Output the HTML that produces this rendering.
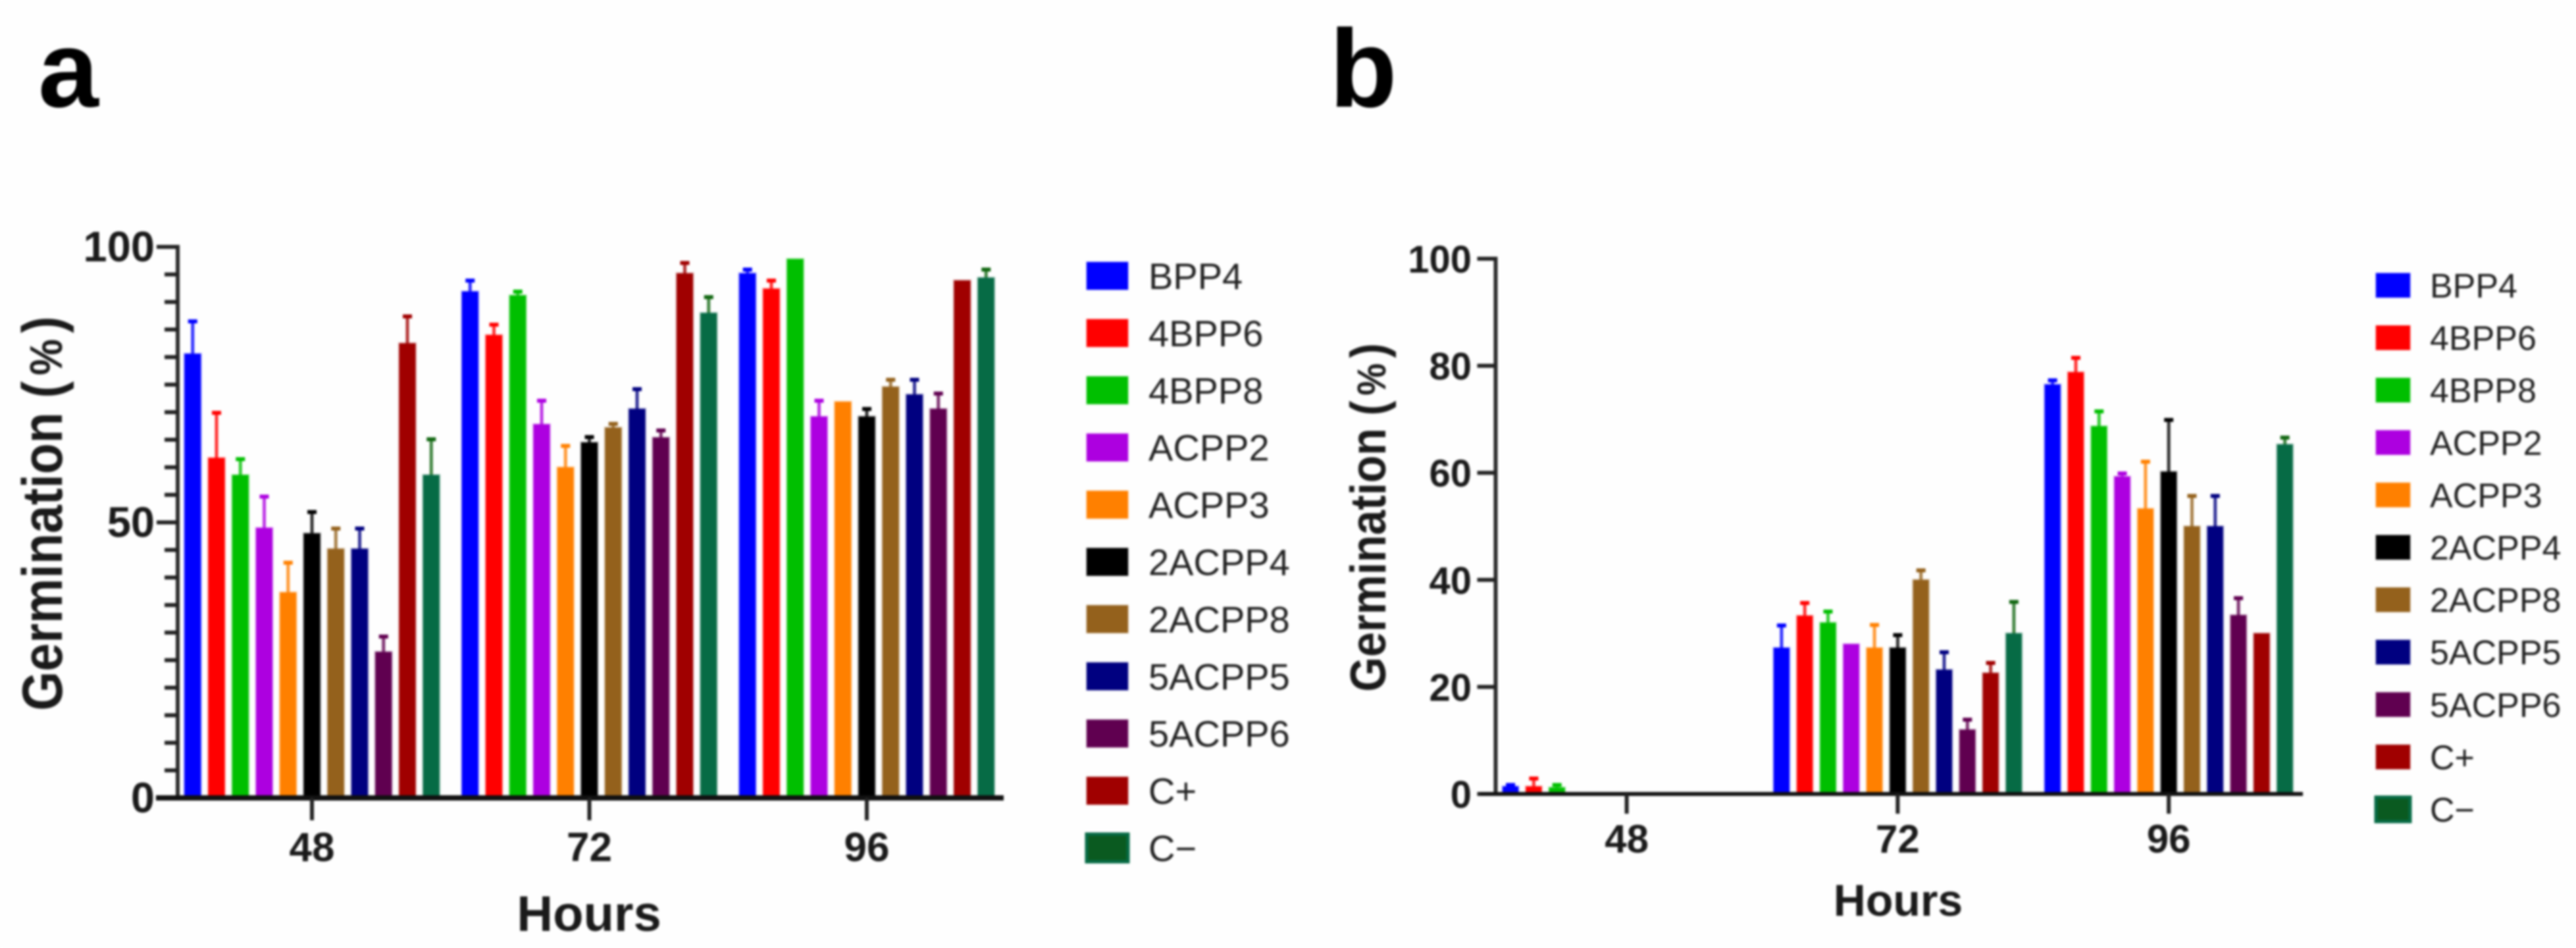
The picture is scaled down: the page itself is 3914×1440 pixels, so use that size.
<!DOCTYPE html>
<html lang="en">
<head>
<meta charset="utf-8">
<title>Germination charts</title>
<style>
  html, body { margin: 0; padding: 0; background: #ffffff; width: 3914px; height: 1440px; overflow: hidden; }
  svg { display: block; filter: blur(1.6px); }
  text { font-family: "Liberation Sans", Arial, sans-serif; }
</style>
</head>
<body>
<svg id="figure" xmlns="http://www.w3.org/2000/svg" width="3914" height="1440" viewBox="0 0 3914 1440">
  <rect x="0" y="0" width="3914" height="1440" fill="#fefefe"></rect>
  <text x="58" y="162" font-size="165" font-weight="700" fill="#000">a</text>
  <text x="2020" y="162" font-size="168" font-weight="700" fill="#000">b</text>

  <g id="chart-a">
    <text transform="translate(94,780) rotate(-90) scale(1,1.12)" text-anchor="middle" font-size="77" font-weight="700" fill="#1a1a1a">Germination (<tspan font-size="62" dx="9">%</tspan><tspan dx="9">)</tspan></text>
    <text x="895" y="1414" text-anchor="middle" font-size="76" font-weight="700" fill="#1a1a1a">Hours</text>
  </g>
  <g id="chart-b">
    <text transform="translate(2105,786) rotate(-90) scale(1,1.12)" text-anchor="middle" font-size="68" font-weight="700" fill="#1a1a1a">Germination (<tspan font-size="55" dx="8">%</tspan><tspan dx="8">)</tspan></text>
    <text x="2884" y="1391" text-anchor="middle" font-size="68" font-weight="700" fill="#1a1a1a">Hours</text>
  </g>
</svg>
<script>
// ---- Data ----
var categories = ['48', '72', '96'];
var seriesNames = ['BPP4', '4BPP6', '4BPP8', 'ACPP2', 'ACPP3', '2ACPP4', '2ACPP8', '5ACPP5', '5ACPP6', 'C+', 'C\u2212'];

var panelA48 = [80.6, 61.7, 58.6, 49, 37.3, 48, 45.2, 45.2, 26.5, 82.5, 58.6];
var panelA72 = [91.9, 84, 91.2, 67.8, 60, 64.5, 67.2, 70.6, 65.4, 95.2, 88];
var panelA96 = [95.2, 92.4, 97.8, 69.2, 71.9, 69.2, 74.6, 73.2, 70.6, 93.9, 94.4];
var errorA48 = [6, 8.3, 3, 5.8, 5.5, 4, 3.8, 3.8, 2.9, 5, 6.6];
var errorA72 = [2.1, 2, 0.8, 4.4, 4, 1.1, 0.8, 3.7, 1.4, 2, 3];
var errorA96 = [0.8, 1.6, 0, 3, 0, 1.5, 1.4, 2.8, 2.9, 0, 1.6];

var panelB48 = [1.4, 1.4, 1.2, 0, 0, 0, 0, 0, 0, 0, 0];
var panelB72 = [27.3, 33.3, 32, 28, 27.3, 27.3, 40, 23.2, 12, 22.6, 30];
var panelB96 = [76.5, 78.8, 68.7, 59.3, 53.3, 60.2, 50, 50, 33.4, 30, 65.3];
var errorB48 = [0.4, 1.6, 0.6, 0, 0, 0, 0, 0, 0, 0, 0];
var errorB72 = [4.3, 2.5, 2.2, 0, 4.4, 2.5, 1.9, 3.4, 2, 2, 6];
var errorB96 = [0.9, 2.8, 2.9, 0.7, 8.9, 9.8, 5.8, 5.8, 3.3, 0, 1.4];

var majorTicksA = [0, 50, 100];
var minorTicksA = [5, 10, 15, 20, 25, 30, 35, 40, 45, 55, 60, 65, 70, 75, 80, 85, 90, 95];
var majorTicksB = [0, 20, 40, 60, 80, 100];

// ---- Styles ----
var barColors = ['#0000ff', '#ff0000', '#00bf00', '#ad00e0', '#ff8000', '#000000', '#94611c', '#000080', '#600050', '#a00000', '#066b45'];
var errorColors = ['#0000ff', '#ff0000', '#00bf00', '#ad00e0', '#ff8000', '#000000', '#94611c', '#000080', '#600050', '#a00000', '#106610'];

var NS = 'http://www.w3.org/2000/svg';

function shape(parent, tag, attrs) {
  var el = document.createElementNS(NS, tag);
  for (var k in attrs) { el.setAttribute(k, attrs[k]); }
  parent.appendChild(el);
  return el;
}

function drawChart(cfg) {
  var root = document.getElementById(cfg.id);
  var yScale = function (v) { return cfg.zeroY - v * cfg.unit; };
  var xScale = function (g, s) { return cfg.firstGroupX + g * cfg.groupStep + (s - 5) * cfg.barStep; };

  // bars and error bars
  cfg.values.forEach(function (groupValues, g) {
    groupValues.forEach(function (value, s) {
      if (value <= 0) { return; }
      var cx = xScale(g, s);
      var err = cfg.errors[g][s];
      if (err > 0) {
        var stem = shape(root, 'rect', { x: cx - 2.5, y: yScale(value + err), width: 5, height: err * cfg.unit, fill: errorColors[s], opacity: 0.8 });
        
        
        var cap = shape(root, 'rect', { x: cx - 7, y: yScale(value + err) - 2, width: 14, height: 6, fill: errorColors[s] });
        
        
      }
      var bar = shape(root, 'rect', {
        x: cx - cfg.barWidth / 2,
        y: yScale(value),
        width: cfg.barWidth,
        height: value * cfg.unit,
        fill: barColors[s],
        stroke: barColors[s],
        'stroke-opacity': 0.3,
        'stroke-width': 3
      });
      
      
    });
  });

  // y axis
  var yAxis = shape(root, 'rect', { x: cfg.axisX - cfg.axisWidth / 2, y: yScale(100) - 3, width: cfg.axisWidth, height: cfg.zeroY - yScale(100) + 6, fill: '#2a2a2a' });
  
  

  cfg.majorTicks.forEach(function (t) {
    var tick = shape(root, 'rect', { x: cfg.axisX - cfg.majorLen, y: yScale(t) - 3, width: cfg.majorLen, height: 6, fill: '#222' });
    
    
    var label = shape(root, 'text', { x: cfg.yLabelX, y: yScale(t) + cfg.yLabelDy, 'text-anchor': 'end', 'font-size': cfg.yLabelSize, 'font-weight': 700, fill: '#1a1a1a' });
    label.textContent = String(t);
    
    
  });
  cfg.minorTicks.forEach(function (t) {
    var tick = shape(root, 'rect', { x: cfg.axisX - 20, y: yScale(t) - 3, width: 20, height: 6, fill: '#222' });
    
    
  });

  // x axis
  var xAxis = shape(root, 'rect', { x: cfg.xLineStart, y: cfg.zeroY - cfg.xLineWidth / 2, width: cfg.xLineEnd - cfg.xLineStart, height: cfg.xLineWidth, fill: '#111' });
  
  

  categories.forEach(function (c, g) {
    var cx = cfg.firstGroupX + g * cfg.groupStep;
    var tick = shape(root, 'rect', { x: cx - 3, y: cfg.zeroY, width: 6, height: cfg.xTickLen, fill: '#222' });
    
    
    var label = shape(root, 'text', { x: cx, y: cfg.xLabelY, 'text-anchor': 'middle', 'font-size': cfg.xLabelSize, 'font-weight': 700, fill: '#1a1a1a' });
    label.textContent = c;
    
    
  });

  // legend
  seriesNames.forEach(function (name, s) {
    var cy = cfg.legendY + s * cfg.legendStep;
    var swatch = shape(root, 'rect', {
      x: cfg.legendX,
      y: cy - cfg.swatchH / 2,
      width: cfg.swatchW,
      height: cfg.swatchH,
      fill: s === 10 ? '#0a5a20' : barColors[s],
      stroke: barColors[s],
      'stroke-opacity': s === 10 ? 1 : 0.25,
      'stroke-width': s === 10 ? 5 : 2
    });
    
    
    var label = shape(root, 'text', { x: cfg.legendTextX, y: cy + cfg.legendSize * 0.358, 'font-size': cfg.legendSize, fill: '#222' });
    label.textContent = name;
    
    
  });
}

drawChart({
  id: 'chart-a',
  values: [panelA48, panelA72, panelA96],
  errors: [errorA48, errorA72, errorA96],
  majorTicks: majorTicksA,
  minorTicks: minorTicksA,
  zeroY: 1212, unit: 8.37,
  firstGroupX: 474, groupStep: 421.5, barStep: 36.25, barWidth: 25,
  axisX: 270, axisWidth: 6, majorLen: 32,
  yLabelX: 235, yLabelDy: 22, yLabelSize: 65,
  xLineStart: 237, xLineEnd: 1525, xLineWidth: 8, xTickLen: 34,
  xLabelY: 1308, xLabelSize: 62,
  legendX: 1651, legendY: 419, legendStep: 86.9, swatchW: 63, swatchH: 42,
  legendTextX: 1745, legendSize: 56
});

drawChart({
  id: 'chart-b',
  values: [panelB48, panelB72, panelB96],
  errors: [errorB48, errorB72, errorB96],
  majorTicks: majorTicksB,
  minorTicks: [],
  zeroY: 1206, unit: 8.13,
  firstGroupX: 2471.6, groupStep: 411.8, barStep: 35.3, barWidth: 24,
  axisX: 2272.5, axisWidth: 6, majorLen: 28,
  yLabelX: 2236, yLabelDy: 21, yLabelSize: 58,
  xLineStart: 2249, xLineEnd: 3499, xLineWidth: 6, xTickLen: 30,
  xLabelY: 1295, xLabelSize: 60,
  legendX: 3610, legendY: 433.4, legendStep: 79.6, swatchW: 52, swatchH: 37,
  legendTextX: 3692, legendSize: 52
});
</script>
</body>
</html>
